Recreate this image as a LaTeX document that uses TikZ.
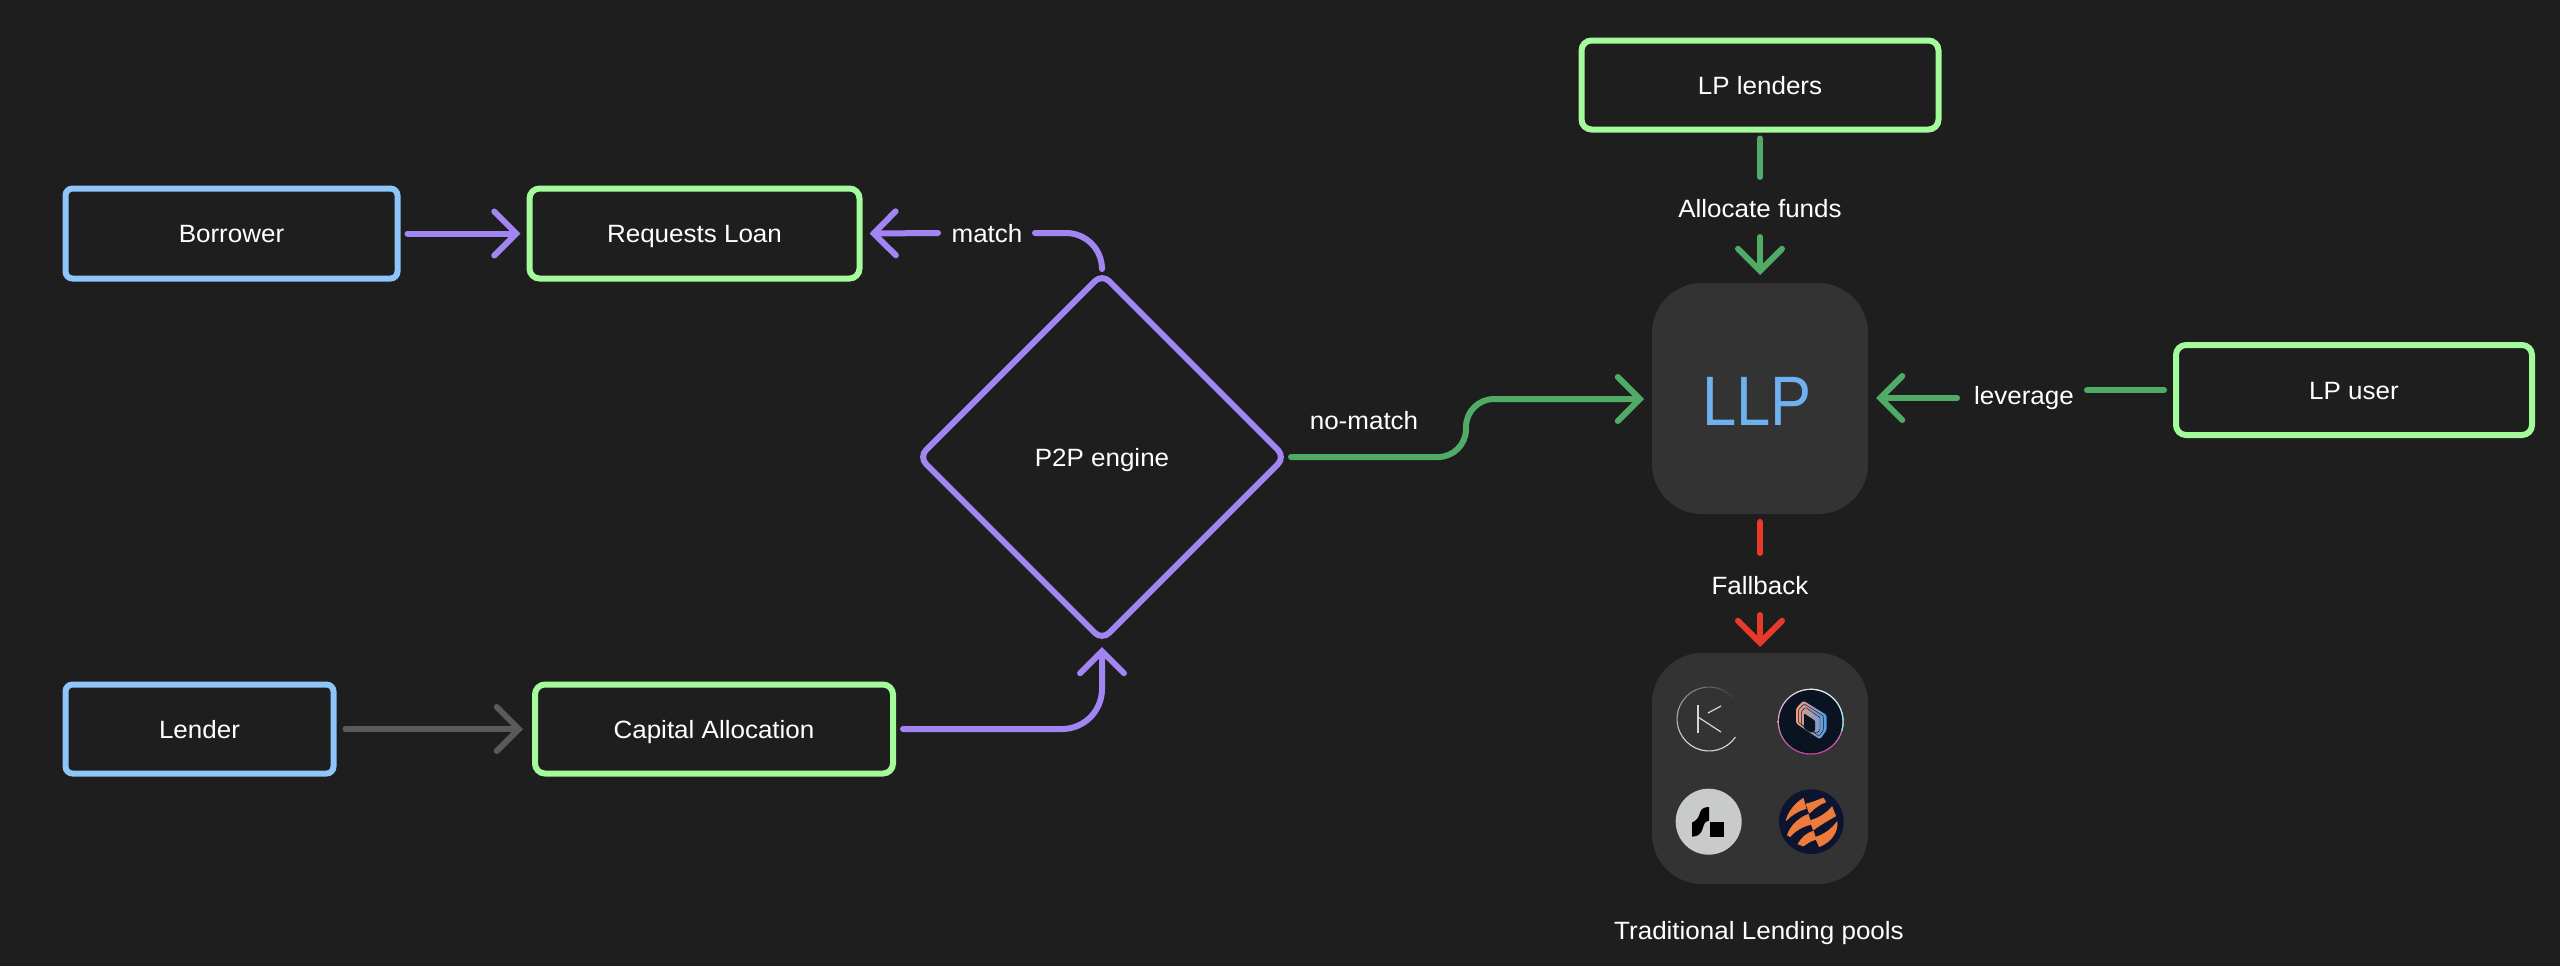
\documentclass[tikz,border=0pt]{standalone}
\usepackage{fontspec}
\setmainfont[FakeStretch=1.04]{Liberation Sans}
\newfontfamily\llpfont[FakeStretch=0.88]{Liberation Sans}
\usetikzlibrary{arrows.meta,shapes.geometric,calc}
\definecolor{bgc}{HTML}{1E1E1E}
\definecolor{panelc}{HTML}{333333}
\definecolor{bluec}{HTML}{8EC5FA}
\definecolor{greenc}{HTML}{A4FB9C}
\definecolor{purplec}{HTML}{A284F2}
\definecolor{lineg}{HTML}{4FAB65}
\definecolor{redc}{HTML}{E8392A}
\definecolor{grayc}{HTML}{5A5A5A}
\definecolor{llpc}{HTML}{6FB0EE}
\definecolor{orangec}{HTML}{EE7B3B}
\definecolor{navyc}{HTML}{0C1430}
\definecolor{dnavy}{HTML}{0A1322}
\definecolor{sgrey}{HTML}{C9CBCA}
\definecolor{dpink}{HTML}{F59A78}
\definecolor{dmag}{HTML}{C83E9E}
\definecolor{dblue}{HTML}{4F9CEB}
\newcommand{\labfont}{\fontsize{12.5pt}{15pt}\selectfont}
\tikzset{
  x=0.5pt,y=-0.5pt,
  txt/.style={text=white,font=\labfont,inner sep=0pt,outer sep=0pt,text height=9pt,text depth=0pt},
  boxb/.style={draw,line width=3pt,rounded corners=3.5pt,fill=bgc,inner sep=0pt,outer sep=0pt,text=white,font=\labfont,text height=9pt,text depth=0pt},
  bluebox/.style={boxb,draw=bluec},
  greenbox/.style={boxb,draw=greenc,rounded corners=5pt},
  panel/.style={fill=panelc,rounded corners=25pt,inner sep=0pt,outer sep=0pt},
  conn/.style={line width=3pt,line cap=round,line join=round},
  arr/.style={conn,-{Straight Barb[length=11pt,width=22pt,line width=3pt,line cap=round,line join=miter]}},
  zoomd/.style={x=0.16667pt,y=-0.16667pt},
  band/.style={fill=orangec,draw=orangec,line width=.3pt,line join=round},
}
\begin{document}
\begin{tikzpicture}
\useasboundingbox (0,0) rectangle (2560,966);
\fill[bgc] (0,0) rectangle (2560,966);

% boxes
\node[bluebox,minimum width=166pt,minimum height=45pt] (borrower) at (231.5,233.5) {Borrower};
\node[greenbox,minimum width=165pt,minimum height=45pt] (req) at (694.5,233.5) {Requests Loan};
\node[bluebox,minimum width=134pt,minimum height=44.5pt] (lender) at (199.5,729) {Lender};
\node[greenbox,minimum width=179pt,minimum height=44.5pt] (cap) at (714,729) {Capital Allocation};
\node[greenbox,minimum width=178.5pt,minimum height=44.5pt] (lplend) at (1760,85) {LP lenders};
\node[greenbox,minimum width=178pt,minimum height=45pt] (lpuser) at (2354,390) {LP user};
\node[draw=purplec,line width=3pt,shape=diamond,aspect=1,rounded corners=5pt,minimum width=183pt,minimum height=183pt,inner sep=0pt,outer sep=0pt,text=white,font=\labfont,text height=9pt,text depth=0pt] (p2p) at (1102,457) {P2P engine};
\node[panel,minimum width=108pt,minimum height=115.5pt] (llp) at (1760,398.5) {};
\node[text=llpc,font=\llpfont\fontsize{35pt}{40pt}\selectfont,inner sep=0pt,text height=25pt,text depth=0pt] (llplabel) at (1757,400) {LLP};
\node[panel,minimum width=108pt,minimum height=115.5pt] (pools) at (1760,768.5) {};

% labels
\node[txt] (match) at (987,233) {match};
\node[txt] (nomatch) at (1364,420) {no-match};
\node[txt] (alloc) at (1760,208) {Allocate funds};
\node[txt] (lev) at (2024,395) {leverage};
\node[txt] (fall) at (1760,585) {Fallback};
\node[txt] (trad) at (1759,930) {Traditional Lending pools};

% connectors
\draw[arr,purplec] ($(borrower.east)+(10,0)$) -- ($(req.west)+(-9,0)$);
\draw[arr,grayc] ($(lender.east)+(12,0)$) -- ($(cap.west)+(-12,0)$);
\draw[arr,purplec,rounded corners=20pt] ($(cap.east)+(10,0)$) -- (cap.east -| p2p.south) -- ($(p2p.south)+(0,7)$);
\draw[conn,purplec,rounded corners=18pt] ($(p2p.north)+(0,-7)$) -- (p2p.north |- match) -- ($(match)+(48,0)$);
\draw[arr,purplec] ($(match)+(-49,0)$) -- ($(req.east)+(10,0)$);
\coordinate (nm1) at ($(p2p.east)+(6,0)$);
\coordinate (nm2) at ($(llp.west)+(-8,0)$);
\draw[arr,lineg,rounded corners=14pt] (nm1) -- (1466,457) -- (1466,399) -- (nm2 |- 0,399);
\draw[conn,lineg] ($(lplend.south)+(0,9)$) -- ($(alloc)+(0,-31)$);
\draw[arr,lineg] ($(alloc)+(0,29)$) -- ($(llp.north)+(0,-8)$);
\draw[conn,lineg] ($(lpuser.west)+(-12,0)$) -- (2087,390);
\draw[arr,lineg] (1957,398) -- (1876,398);
\draw[conn,redc] ($(llp.south)+(0,8)$) -- ($(fall)+(0,-32)$);
\draw[arr,redc] ($(fall)+(0,30)$) -- ($(pools.north)+(0,-6)$);

% K icon: ring fading in from the upper right
\foreach \a [evaluate=\a as \p using {min(82,(\a-35)*0.42+4)}, evaluate=\a as \xx using {1709+32*cos(\a)}, evaluate=\a as \yy using {719-32*sin(\a)}] in {35,45,...,315}{
  \draw[line width=.55pt,color=white!\p!panelc] (\xx,\yy) arc[start angle=\a,delta angle=10.5,radius=16pt];
}
\draw[white!80!panelc,line width=.6pt] (1698,705) -- (1698,733);
\draw[white!80!panelc,line width=.6pt] (1708,713) -- (1721,706);
\draw[white!80!panelc,line width=.6pt] (1698,717) -- (1721,732);

% D icon
\begin{scope}[shift={(1770,680)},zoomd]
\shade[top color=white!80!gray,bottom color=dmag] (122,125) circle[radius=99];
\begin{scope}
\clip (122,26) rectangle (225,150);
\shade[top color=white!80!gray,bottom color=cyan!70!white] (122,125) circle[radius=99];
\end{scope}
\fill[dnavy] (122,125) circle[radius=95];
\shade[left color=dpink,middle color=dmag,right color=dblue,rounded corners=.8pt]
  (78,85) -- (100,62) -- (170,105) -- (170,150) -- (150,178) -- (78,130) -- cycle;
\fill[dnavy,rounded corners=.5pt] (102,100) -- (135,122) -- (135,153) -- (122,158) -- (102,145) -- cycle;
\draw[dnavy,line width=.22pt,rounded corners=.5pt] (86,88) -- (103,72) -- (160,108) -- (160,150) -- (147,168) -- (86,128) -- cycle;
\draw[dnavy,line width=.22pt,rounded corners=.5pt] (94,94) -- (106,82) -- (150,112) -- (150,150) -- (140,160) -- (94,135) -- cycle;
\end{scope}

% S icon
\begin{scope}[shift={(1668,780)},zoomd]
\fill[sgrey] (122,125) circle[radius=99];
\fill[black] (72,128) .. controls (88,120) and (92,112) .. (96,98) .. controls (100,86) and (108,81) .. (123,81) -- (123,122) .. controls (110,124) and (108,132) .. (104,146) .. controls (100,160) and (90,170) .. (72,170) -- cycle;
\fill[black] (125,127) rectangle (168,171);
\end{scope}

% globe icon
\begin{scope}[shift={(1770,780)},zoomd]
\fill[navyc] (124,125) circle[radius=97];
\path[band] (48,122) .. controls (55,95) and (75,70) .. (100,55) -- (108,86) .. controls (85,92) and (65,105) .. (48,122) -- cycle;
\path[band] (52,165) .. controls (62,135) and (90,112) .. (115,103) -- (124,133) .. controls (100,138) and (75,152) .. (60,170) -- cycle;
\path[band] (84,192) .. controls (95,172) and (110,160) .. (130,153) -- (138,178) .. controls (122,182) and (112,190) .. (100,198) -- cycle;
\path[band] (108,72) .. controls (125,68) and (145,60) .. (160,54) -- (167,66) .. controls (150,72) and (132,85) .. (118,100) -- cycle;
\path[band] (120,122) .. controls (145,115) and (170,100) .. (186,80) -- (197,108) .. controls (175,120) and (150,135) .. (130,150) -- cycle;
\path[band] (135,172) .. controls (160,165) and (185,148) .. (201,125) .. controls (204,155) and (185,185) .. (148,200) -- cycle;
\end{scope}
\end{tikzpicture}
\end{document}
